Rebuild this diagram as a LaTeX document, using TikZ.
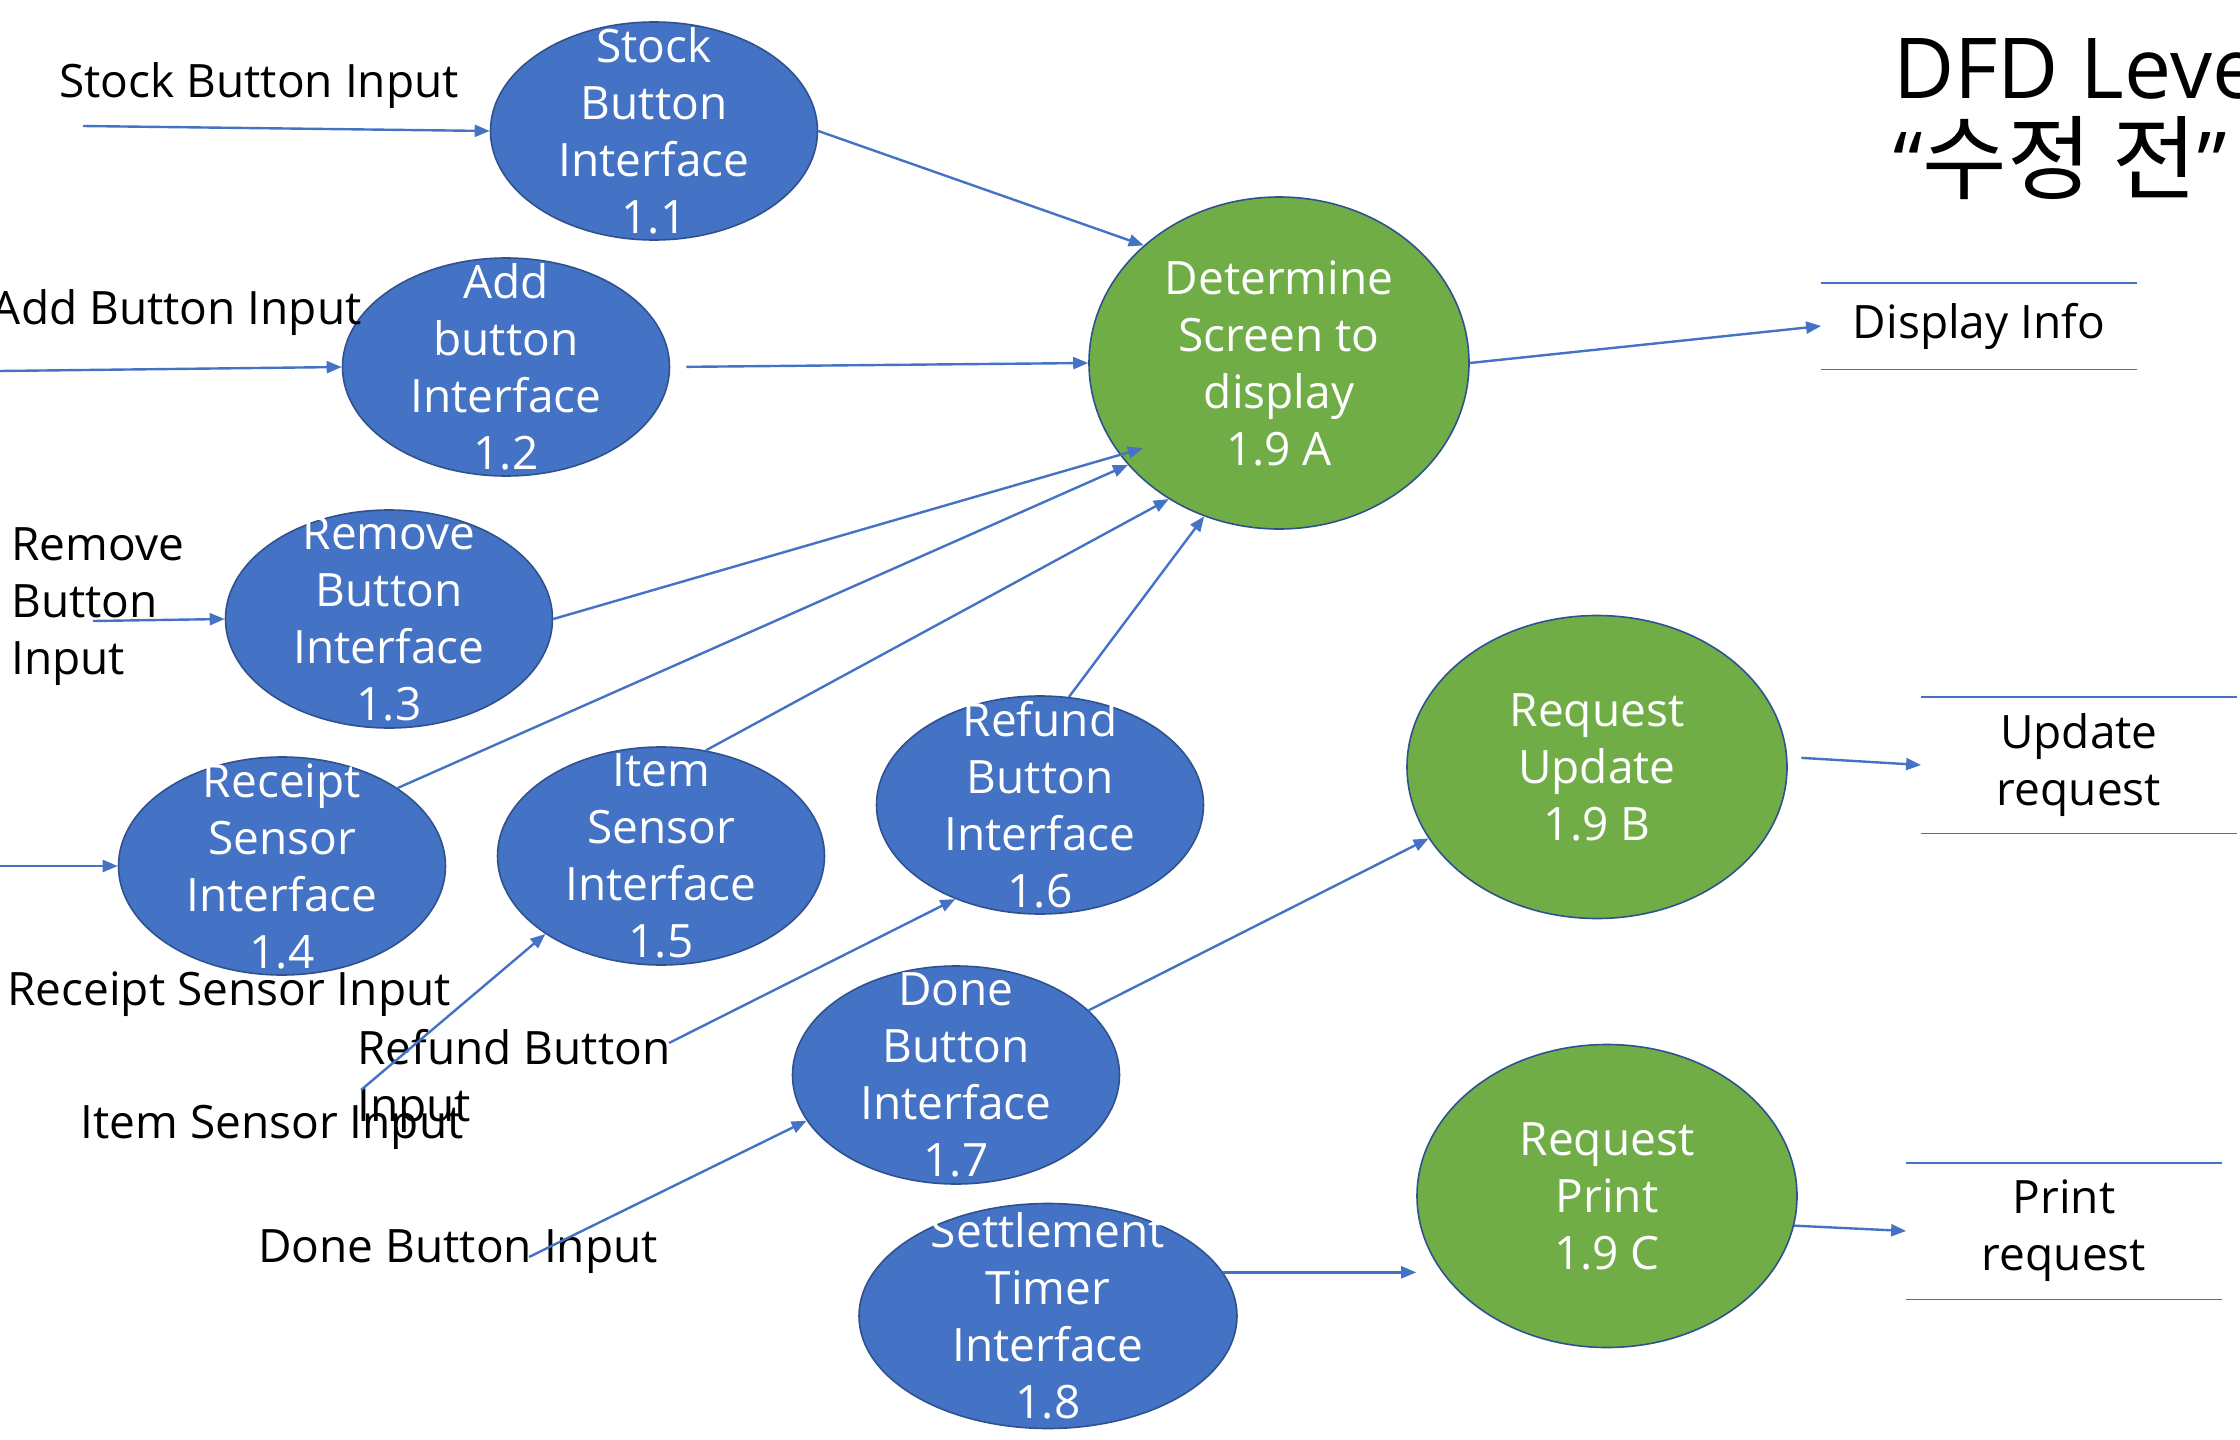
\documentclass[tikz,border=0pt]{standalone}
\usepackage{fontspec}
\setmainfont{Open Sans}
\newfontfamily\kofont{Noto Sans CJK KR}
\usetikzlibrary{shapes.geometric, arrows.meta}

\definecolor{procblue}{HTML}{4472C4}
\definecolor{procgreen}{HTML}{70AD47}
\definecolor{rimblue}{HTML}{2F528F}

\begin{document}
\begin{tikzpicture}[x=0.5pt, y=-0.5pt]

\tikzset{process/.style = {shape=ellipse, draw=rimblue, line width=0.8pt, fill=procblue, minimum width=163.5pt, minimum height=109pt, inner sep=0pt}}
\tikzset{subproc/.style = {process, fill=procgreen, minimum width=190pt, minimum height=151.5pt}}
\tikzset{ptext/.style = {text=white, align=center, inner sep=0pt, font=\fontsize{23}{28.5}\selectfont}}
\tikzset{lbl/.style = {align=left, inner sep=0pt, font=\fontsize{23}{28.5}\selectfont}}
\tikzset{datastore/.style = {minimum width=157.5pt, inner sep=0pt, align=center, font=\fontsize{23}{28.5}\selectfont}}
\tikzset{storeline/.style = {draw=procblue, line width=0.9pt}}
\tikzset{flow/.style = {draw=procblue, line width=1.2pt, -{Triangle[length=7.5pt, width=6pt]}}}

\useasboundingbox (0,0) rectangle (2240,1440);

%title
\node[lbl, anchor=west, font=\fontsize{42}{47}\selectfont] (title) at (1893,117) {DFD Level\\“{\kofont\fontsize{46}{47}\selectfont 수정 전}”};

%processes
\node[process] (n11) at (654,131) {};
\node[process] (n12) at (506,367) {};
\node[process] (n13) at (389,619) {};
\node[process] (n14) at (282,866) {};
\node[process] (n15) at (661,856) {};
\node[process] (n16) at (1040,805) {};
\node[process] (n17) at (956,1075) {};
\node[process, minimum width=189pt, minimum height=112.5pt] (n18) at (1048,1316) {};
\node[subproc, minimum height=166pt] (n19a) at (1279,363) {};
\node[subproc] (n19b) at (1597,767) {};
\node[subproc] (n19c) at (1607,1196) {};
\node[ptext] (t11) at (n11) {Stock\\Button\\Interface\\1.1};
\node[ptext] (t12) at (n12) {Add\\button\\Interface\\1.2};
\node[ptext] (t13) at (n13) {Remove\\Button\\Interface\\1.3};
\node[ptext] (t14) at (n14) {Receipt\\Sensor\\Interface\\1.4};
\node[ptext] (t15) at (n15) {Item\\Sensor\\Interface\\1.5};
\node[ptext] (t16) at (n16) {Refund\\Button\\Interface\\1.6};
\node[ptext] (t17) at (n17) {Done\\Button\\Interface\\1.7};
\node[ptext] (t18) at (n18) {Settlement\\Timer\\Interface\\1.8};
\node[ptext] (t19a) at (n19a) {Determine\\Screen to\\display\\1.9 A};
\node[ptext] (t19b) at (n19b) {Request\\Update\\1.9 B};
\node[ptext] (t19c) at (n19c) {Request\\Print\\1.9 C};

%data stores
\node[datastore, minimum height=43pt] (ds) at (1979,326) {Display Info};
\node[datastore, minimum height=68pt] (ur) at (2079,765) {Update\\request};
\node[datastore, minimum height=68pt] (pr) at (2064,1231) {Print\\request};
\draw[storeline] (ds.north west) -- (ds.north east) (ds.south west) -- (ds.south east);
\draw[storeline] (ur.north west) -- (ur.north east) (ur.south west) -- (ur.south east);
\draw[storeline] (pr.north west) -- (pr.north east) (pr.south west) -- (pr.south east);

%inputs
\node[lbl] (stocklbl) at (259,86) {Stock Button Input};
\node[lbl, anchor=east] (addlbl) at (362,313) {Add Button Input};
\node[lbl, anchor=west] (removelbl) at (11,607) {Remove\\Button\\Input};
\node[lbl] (receiptlbl) at (229,994) {Receipt Sensor Input};
\node[lbl] (itemlbl) at (272,1127) {Item Sensor Input};
\node[lbl, anchor=west] (refundlbl) at (357,1081) {Refund Button\\Input};
\node[lbl] (donelbl) at (458,1252) {Done Button Input};
\coordinate (stockin) at (83,126);
\coordinate (addin) at (0,371);
\coordinate (removein) at (93,621);
\coordinate (receiptin) at (0,866);
\coordinate (itemin) at (361,1090);
\coordinate (refundin) at (669,1043);
\coordinate (donein) at (529,1257);

%flows
\draw[flow] (stockin) -- (n11.west);
\draw[flow] (addin) -- (n12.west);
\draw[flow] (removein) -- (n13.west);
\draw[flow] (receiptin) -- (n14.west);
\draw[flow] (itemin) -- (n15.214);
\draw[flow] (refundin) -- (n16.228);
\draw[flow] (donein) -- (n17.197);
\draw[flow] (n11.east) -- (n19a.139);
\draw[flow, shorten <=8pt] (n12.east) -- (n19a.west);
\draw[flow, shorten >=-12pt] (n13.east) -- (n19a.210);
\draw[flow] (n14.34) -- (n19a.214);
\draw[flow] (n15.67) -- (n19a.231);
\draw[flow] (n16.75) -- (n19a.244);
\draw[flow] (n17.26) -- (n19b.203);
\draw[flow] (n18.14) -- (n18.14 -| n19c.west);
\draw[flow] (n19a.east) -- (ds.west);
\draw[flow, shorten <=7pt] (n19b.3) -- (ur.west);
\draw[flow] (n19c.-9) -- (pr.west);

\end{tikzpicture}
\end{document}
